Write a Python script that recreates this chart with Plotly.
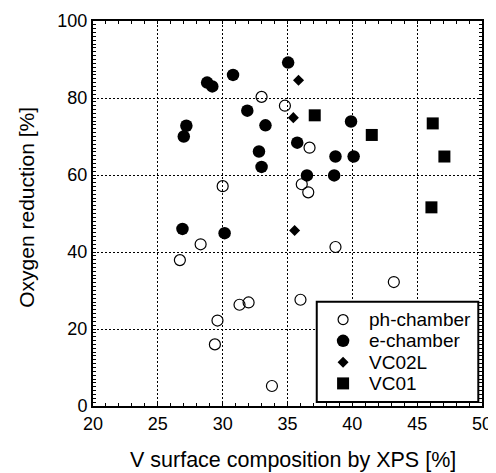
import plotly.graph_objects as go

# ---- data ----
ph_x = [33.0, 34.8, 36.7, 30.0, 36.1, 36.6, 28.3, 26.7, 38.7, 43.2, 31.3, 32.0, 36.0, 29.6, 29.4, 33.8]
ph_y = [80.3, 78.0, 67.1, 57.1, 57.6, 55.5, 42.0, 37.9, 41.3, 32.2, 26.3, 26.9, 27.6, 22.2, 16.0, 5.2]

e_x = [35.05, 30.8, 28.8, 29.2, 31.9, 33.3, 27.2, 27.0, 32.8, 33.0, 26.9, 30.15, 39.9, 35.75, 38.7, 40.1, 36.5, 38.6]
e_y = [89.2, 86.0, 84.0, 83.0, 76.7, 72.9, 72.8, 70.0, 66.1, 62.1, 46.0, 44.9, 73.9, 68.4, 64.8, 64.8, 59.9, 59.9]

vc02l_x = [35.85, 35.45, 35.55]
vc02l_y = [84.6, 74.9, 45.6]

vc01_x = [37.1, 41.5, 46.2, 47.1, 46.1]
vc01_y = [75.5, 70.4, 73.4, 64.8, 51.6]

series_names = ["ph-chamber", "e-chamber", "VC02L", "VC01"]
x_title = "V surface composition by XPS [%]"
y_title = "Oxygen reduction [%]"

FONT = "Liberation Sans, Arial, sans-serif"

styles = [
    dict(symbol="circle-open", size=11, color="black", line=dict(width=1.2, color="black")),
    dict(symbol="circle", size=12.5, color="black"),
    dict(symbol="diamond", size=8.5, color="black"),
    dict(symbol="square", size=12, color="black"),
]
series = [(ph_x, ph_y), (e_x, e_y), (vc02l_x, vc02l_y), (vc01_x, vc01_y)]

fig = go.Figure()
for (sx, sy), name, st in zip(series, series_names, styles):
    fig.add_trace(go.Scatter(x=sx, y=sy, mode="markers", name=name,
                             marker=st, showlegend=False))

# ---- hand-made legend box (paper coordinates of the plot area) ----
leg_x0, leg_x1, leg_y0, leg_y1 = 0.5752, 0.9905, 0.0104, 0.2707
leg_mx, leg_tx = 0.6429, 0.7047
leg_rows = [0.2245, 0.1692, 0.1139, 0.0587]


def key_shape(kind, ry):
    base = dict(xref="paper", yref="paper", xsizemode="pixel", ysizemode="pixel",
                xanchor=leg_mx, yanchor=ry, layer="above")
    if kind == 0:
        return dict(type="circle", x0=-5, x1=5, y0=-5, y1=5,
                    line=dict(color="black", width=1.2), fillcolor="white", **base)
    if kind == 1:
        return dict(type="circle", x0=-6.25, x1=6.25, y0=-6.25, y1=6.25,
                    line=dict(color="black", width=0), fillcolor="black", **base)
    if kind == 2:
        return dict(type="path", path="M0,5.5 L5.5,0 L0,-5.5 L-5.5,0 Z",
                    line=dict(color="black", width=0), fillcolor="black", **base)
    return dict(type="rect", x0=-6, x1=6, y0=-6, y1=6,
                line=dict(color="black", width=0), fillcolor="black", **base)


shapes = [dict(type="rect", xref="paper", yref="paper",
               x0=leg_x0, x1=leg_x1, y0=leg_y0, y1=leg_y1,
               line=dict(color="black", width=2), fillcolor="white", layer="above")]
shapes += [key_shape(i, ry) for i, ry in enumerate(leg_rows)]

annotations = []
for name, ry in zip(series_names, leg_rows):
    annotations.append(dict(text=name, xref="paper", yref="paper", x=leg_tx, y=ry,
                            xanchor="left", yanchor="middle", showarrow=False,
                            font=dict(family=FONT, size=19, color="black")))
annotations += [
    dict(text=x_title, xref="paper", yref="paper", x=0.5142, y=-0.141,
         xanchor="center", yanchor="middle", showarrow=False,
         font=dict(family=FONT, size=21.5, color="black")),
    dict(text=y_title, xref="paper", yref="paper", x=-0.1707, y=0.5165,
         xanchor="center", yanchor="middle", textangle=-90, showarrow=False,
         font=dict(family=FONT, size=21, color="black")),
]

axis_common = dict(
    showline=True, linecolor="black", linewidth=2, mirror="ticks",
    ticks="inside", ticklen=3, tickwidth=1, tickcolor="black",
    showgrid=True, gridcolor="black", gridwidth=1, griddash="2px,2px",
    zeroline=False, automargin=False,
    tickfont=dict(family=FONT, size=18, color="black"),
)

fig.update_xaxes(range=[20, 50], dtick=5, tick0=20,
                 minor=dict(dtick=1, ticks="inside", ticklen=3, tickcolor="black", showgrid=False),
                 **axis_common)
fig.update_yaxes(range=[0, 100], dtick=20, tick0=0,
                 minor=dict(dtick=1, ticks="inside", ticklen=3, tickcolor="black", showgrid=False),
                 **axis_common)

# the page body has an 8px default margin: size the figure so the plot lands where it should
fig.update_layout(
    width=488, height=465,
    margin=dict(l=85, r=14, t=13, b=67),
    paper_bgcolor="white", plot_bgcolor="white",
    font=dict(family=FONT, color="black"),
    shapes=shapes,
    annotations=annotations,
)

fig.write_html("out.html")
